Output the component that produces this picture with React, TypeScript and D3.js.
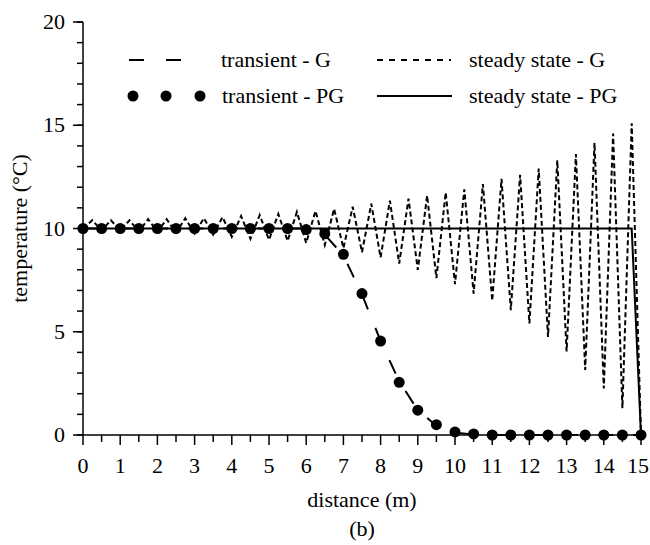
import React from "react";
import * as d3 from "d3";

// ---- data ----
const xTicks = d3.range(0, 16, 1);
const xMinor = d3.range(0.5, 15, 1);
const yTicks = [0, 5, 10, 15, 20];
const yMinor = d3.range(0, 21, 1);

// steady state - G (Galerkin), nodes every 0.25 m from 0 to 15
const steadyGX = d3.range(0, 15.0001, 0.25);
const steadyG = [
  10, 10.4, 9.9, 10.4, 9.9, 10.4, 9.85, 10.45, 9.85, 10.45,
  9.8, 10.5, 9.75, 10.5, 9.7, 10.55, 9.6, 10.6, 9.5, 10.65,
  9.45, 10.7, 9.4, 10.8, 9.3, 10.85, 9.2, 10.95, 9.05, 11.05,
  8.85, 11.2, 8.6, 11.35, 8.3, 11.45, 8.0, 11.6, 7.6, 11.75,
  7.3, 11.9, 6.85, 12.15, 6.5, 12.4, 6.05, 12.6, 5.4, 12.9,
  4.75, 13.3, 4.05, 13.6, 3.15, 14.15, 2.25, 14.6, 1.3, 15.1,
  0,
];

// steady state - PG
const steadyPGX = [0, 14.75, 15];
const steadyPG = [10, 10, 0];

// transient, every 0.5 m
const transX = d3.range(0, 15.0001, 0.5);
const transientG = [
  10, 10, 10, 10, 10, 10, 10, 10, 10, 10, 10, 10, 10,
  9.7, 8.7, 6.8, 4.55, 2.6, 1.2, 0.45, 0.12, 0.02,
  0, 0, 0, 0, 0, 0, 0, 0, 0,
];
const transientPG = [
  10, 10, 10, 10, 10, 10, 10, 10, 10, 10, 10, 10,
  9.95, 9.75, 8.75, 6.85, 4.55, 2.55, 1.2, 0.5, 0.15, 0.05,
  0, 0, 0, 0, 0, 0, 0, 0, 0,
];

const W = 650;
const H = 545;
const FAMILY = '"Times New Roman", "Liberation Serif", Tinos, FreeSerif, "Nimbus Roman", Times';

function T(props: any) {
  const { children, ...rest } = props;
  return (
    <text fontSize={22} style={{ fontFamily: FAMILY }} fill="#000" {...rest}>
      {children}
    </text>
  );
}

export default function App() {
  const x = d3.scaleLinear().domain([0, 15]).range([83, 641]);
  const y = d3.scaleLinear().domain([0, 20]).range([435, 22]);
  const line = d3
    .line<[number, number]>()
    .x((d) => x(d[0]))
    .y((d) => y(d[1]));

  const sg = line(steadyGX.map((v, i) => [v, steadyG[i]]));
  const spg = line(steadyPGX.map((v, i) => [v, steadyPG[i]]));
  const tg = line(transX.map((v, i) => [v, transientG[i]]));

  const x0 = x(0);
  const y0 = y(0);

  return (
    <div style={{ fontFamily: FAMILY }}>
      <svg
        width={W}
        height={H}
        style={{ position: "absolute", left: 0, top: 0, background: "#fff", fontFamily: FAMILY }}
      >
        <rect width={W} height={H} fill="#fff" />
        {/* axes */}
        <g stroke="#000" strokeWidth={1.5} fill="none">
          <line x1={x0} y1={y(20)} x2={x0} y2={y0} />
          <line x1={x0} y1={y0} x2={x(15)} y2={y0} />
          {yMinor.map((t) => (
            <line key={"ym" + t} x1={x0} x2={x0 - 6} y1={y(t)} y2={y(t)} />
          ))}
          {yTicks.map((t) => (
            <line key={"yt" + t} x1={x0} x2={x0 - 10} y1={y(t)} y2={y(t)} />
          ))}
          {xMinor.map((t) => (
            <line key={"xm" + t} x1={x(t)} x2={x(t)} y1={y0} y2={y0 + 7} />
          ))}
          {xTicks.map((t) => (
            <line key={"xt" + t} x1={x(t)} x2={x(t)} y1={y0} y2={y0 + 10} />
          ))}
        </g>
        {yTicks.map((t) => (
          <T key={"yl" + t} x={65} y={y(t) + 7} textAnchor="end">
            {t}
          </T>
        ))}
        {xTicks.map((t) => (
          <T key={"xl" + t} x={Math.min(x(t), 638)} y={473} textAnchor="middle">
            {t}
          </T>
        ))}
        <T x={x(7.5)} y={507} textAnchor="middle">
          distance (m)
        </T>
        <T x={x(7.5)} y={536} textAnchor="middle">
          (b)
        </T>
        <T transform={`translate(27,${y(10)}) rotate(-90)`} textAnchor="middle">
          temperature (°C)
        </T>

        {/* series */}
        <path d={spg || ""} fill="none" stroke="#000" strokeWidth={2} />
        <path
          d={sg || ""}
          fill="none"
          stroke="#000"
          strokeWidth={2}
          strokeDasharray="5,3"
        />
        <path
          d={tg || ""}
          fill="none"
          stroke="#000"
          strokeWidth={2}
          strokeDasharray="15,20"
        />
        {transX.map((v, i) => (
          <circle key={"pg" + i} cx={x(v)} cy={y(transientPG[i])} r={5.5} fill="#000" />
        ))}

        {/* legend */}
        <g stroke="#000" strokeWidth={2} fill="none">
          <line x1={129} x2={183} y1={60} y2={60} strokeDasharray="15,22" />
          <line x1={377} x2={451} y1={60} y2={60} strokeDasharray="6,6" />
          <line x1={377} x2={452} y1={96} y2={96} />
        </g>
        {[133, 166, 200].map((cx) => (
          <circle key={"lg" + cx} cx={cx} cy={96} r={5.5} fill="#000" />
        ))}
        <T x={221} y={67}>transient - G</T>
        <T x={469} y={67}>steady state - G</T>
        <T x={222} y={103}>transient - PG</T>
        <T x={469} y={103}>steady state - PG</T>
      </svg>
    </div>
  );
}
